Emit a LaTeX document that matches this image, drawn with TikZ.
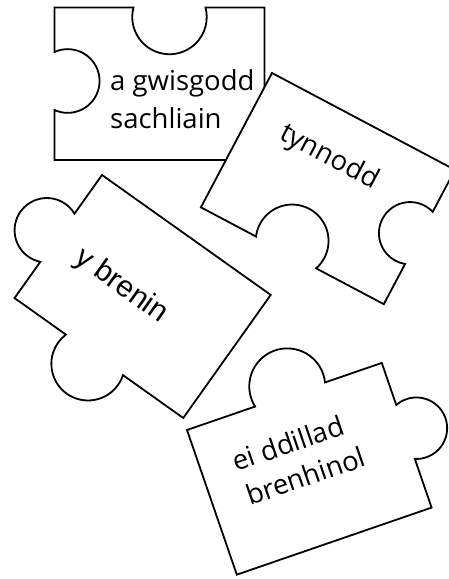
\documentclass[tikz,border=0pt]{standalone}
\usepackage{fontspec}
\setmainfont{Open Sans}
\newfontfamily\arialfont{Liberation Sans}
\newcommand\pzknob[3]{arc[start angle={#3+180+atan(#2/#1)}, end angle={#3-atan(#2/#1)}, radius={veclen(#1,#2)}]}
\newcommand\pznotch[3]{arc[start angle={#3+180-atan(#2/#1)}, end angle={#3+360+atan(#2/#1)}, radius={veclen(#1,#2)}]}
\tikzset{
  piece/.style={draw=black, line width=1.8pt, line join=miter, fill=white},
  pztext/.style={inner sep=0pt, font=\fontsize{27.5}{33}\selectfont, text=black},
  pztextb/.style={inner sep=0pt, font=\arialfont\fontsize{30}{36}\selectfont, text=black}
}
\begin{document}
\begin{tikzpicture}[x=1pt,y=1pt]
\useasboundingbox (0,0) rectangle (449,579);
\clip (0,0) rectangle (449,579);
% piece 1
\begin{scope}[shift={(54.5,571.5)}]
\draw[piece] (0,0) -- (79,0) \pznotch{36}{9.5}{0} -- (210,0) -- (210,-152.5) -- (0,-152.5)
  -- (0,-102.5) \pznotch{29}{13.2}{90} -- cycle;
\end{scope}
% piece 2
\begin{scope}[shift={(272,506)}, rotate=-27.9]
\draw[piece] (0,0) -- (207,0) -- (207,-47.5) \pznotch{29.5}{10}{-90} -- (207,-152)
  -- (130.4,-152) \pznotch{34}{13}{180} -- (0,-152) -- cycle;
\end{scope}
% piece 3
\begin{scope}[shift={(102,404)}, rotate=-35.4]
\draw[piece] (0,0) -- (207,0) -- (207,-151) -- (133,-151) \pzknob{35}{11}{180} -- (0,-151)
  -- (0,-106.5) \pzknob{29.5}{13}{90} -- cycle;
\end{scope}
% piece 4
\begin{scope}[shift={(187,149)}, rotate=19]
\draw[piece] (0,0) -- (72,0) \pzknob{37}{8.6}{0} -- (206,0) -- (206,-44.5) \pzknob{28.5}{11.5}{-90}
  -- (206,-153) -- (0,-153) -- cycle;
\end{scope}
% texts
\node[pztext, anchor=base west] (t1a) at (110,488.3) {a gwisgodd};
\node[pztext, anchor=base west] (t1b) at (110,450.7) {sachliain};
\node[pztext, rotate=-27.9] (t2) at (329,421.5) {tynnodd};
\node[pztextb, rotate=-35.4] (t3) at (121,293) {y brenin};
\node[pztext, anchor=base west, rotate=19] (t4a) at (236,107) {ei ddillad};
\node[pztext, anchor=base west, rotate=19] (t4b) at (250,73) {brenhinol};
\end{tikzpicture}
\end{document}
